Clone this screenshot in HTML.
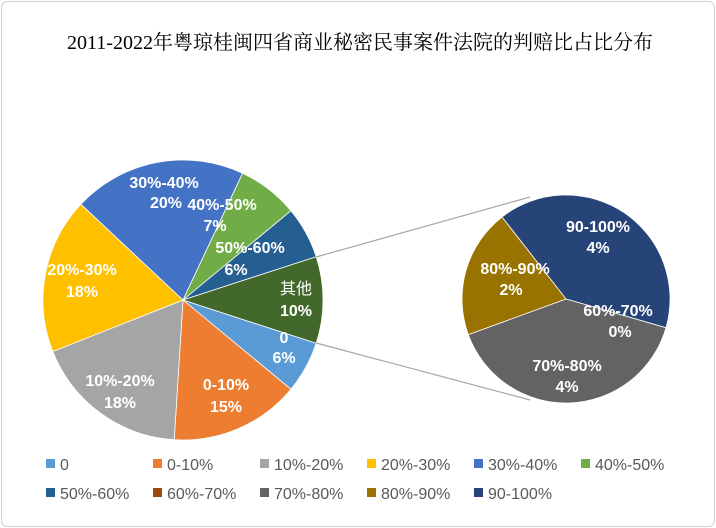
<!DOCTYPE html>
<html><head><meta charset="utf-8"><style>
html,body{margin:0;padding:0;background:#fff;}
svg{display:block;}
.l{font-family:"Liberation Sans","Noto Sans CJK SC",sans-serif;font-size:16px;font-weight:bold;fill:#fff;text-anchor:middle;}
.g{font-family:"Liberation Sans","Noto Sans CJK SC",sans-serif;font-size:16px;fill:#595959;}
</style></head><body>
<svg width="716" height="528" viewBox="0 0 716 528" xmlns="http://www.w3.org/2000/svg">
<rect x="1.5" y="1.5" width="713" height="525" rx="6" fill="#fff" stroke="#d0d0d0"/>
<text x="360" y="49" text-anchor="middle" style="font-family:'Liberation Serif','Noto Serif CJK SC',serif;font-size:20px;fill:#000">2011-2022年粤琼桂闽四省商业秘密民事案件法院的判赔比占比分布</text>
<g stroke="#fff" stroke-width="0.8">
<path d="M183,300 L316.2,343.3 A140,140 0 0 1 290.9,389.2Z" fill="#5B9BD5"/>
<path d="M183,300 L290.9,389.2 A140,140 0 0 1 174.2,439.7Z" fill="#ED7D31"/>
<path d="M183,300 L174.2,439.7 A140,140 0 0 1 52.8,351.5Z" fill="#A5A5A5"/>
<path d="M183,300 L52.8,351.5 A140,140 0 0 1 80.9,204.2Z" fill="#FFC000"/>
<path d="M183,300 L80.9,204.2 A140,140 0 0 1 242.6,173.3Z" fill="#4472C4"/>
<path d="M183,300 L242.6,173.3 A140,140 0 0 1 290.9,210.8Z" fill="#70AD47"/>
<path d="M183,300 L290.9,210.8 A140,140 0 0 1 316.2,256.7Z" fill="#255E91"/>
<path d="M183,300 L316.2,256.7 A140,140 0 0 1 316.2,343.3Z" fill="#43682B"/>
<path d="M566,299 L502,217 A104,104 0 0 1 666,327.7Z" fill="#264478"/>
<path d="M566,299 L666,327.7 A104,104 0 0 1 468.3,334.6Z" fill="#636363"/>
<path d="M566,299 L468.3,334.6 A104,104 0 0 1 502,217Z" fill="#997300"/>
</g>
<line x1="316" y1="257" x2="530" y2="197" stroke="#a6a6a6" stroke-width="1.2"/>
<line x1="316" y1="343" x2="530" y2="400" stroke="#a6a6a6" stroke-width="1.2"/>
<text class="l" x="164" y="188">30%-40%</text><text class="l" x="166" y="208">20%</text>
<text class="l" x="222" y="210">40%-50%</text><text class="l" x="215" y="231">7%</text>
<text class="l" x="250" y="253">50%-60%</text><text class="l" x="236" y="275">6%</text>
<text class="l" x="296" y="294" style="font-weight:normal">其他</text><text class="l" x="296" y="316">10%</text>
<text class="l" x="284" y="343">0</text><text class="l" x="284" y="363">6%</text>
<text class="l" x="226" y="390">0-10%</text><text class="l" x="226" y="412">15%</text>
<text class="l" x="120" y="386">10%-20%</text><text class="l" x="120" y="408">18%</text>
<text class="l" x="82" y="275">20%-30%</text><text class="l" x="82" y="297">18%</text>
<text class="l" x="598" y="232">90-100%</text><text class="l" x="598" y="253">4%</text>
<text class="l" x="515" y="274">80%-90%</text><text class="l" x="511" y="295">2%</text>
<text class="l" x="618" y="316">60%-70%</text><text class="l" x="620" y="337">0%</text>
<text class="l" x="567" y="371">70%-80%</text><text class="l" x="567" y="392">4%</text>
<g>
<rect x="46" y="459" width="9" height="9" fill="#5B9BD5"/><text class="g" x="60" y="470">0</text>
<rect x="153" y="459" width="9" height="9" fill="#ED7D31"/><text class="g" x="167" y="470">0-10%</text>
<rect x="260" y="459" width="9" height="9" fill="#A5A5A5"/><text class="g" x="274" y="470">10%-20%</text>
<rect x="367" y="459" width="9" height="9" fill="#FFC000"/><text class="g" x="381" y="470">20%-30%</text>
<rect x="474" y="459" width="9" height="9" fill="#4472C4"/><text class="g" x="488" y="470">30%-40%</text>
<rect x="581" y="459" width="9" height="9" fill="#70AD47"/><text class="g" x="595" y="470">40%-50%</text>
<rect x="46" y="488" width="9" height="9" fill="#255E91"/><text class="g" x="60" y="499">50%-60%</text>
<rect x="153" y="488" width="9" height="9" fill="#9E480E"/><text class="g" x="167" y="499">60%-70%</text>
<rect x="260" y="488" width="9" height="9" fill="#636363"/><text class="g" x="274" y="499">70%-80%</text>
<rect x="367" y="488" width="9" height="9" fill="#997300"/><text class="g" x="381" y="499">80%-90%</text>
<rect x="474" y="488" width="9" height="9" fill="#264478"/><text class="g" x="488" y="499">90-100%</text>
</g>
</svg>
</body></html>
